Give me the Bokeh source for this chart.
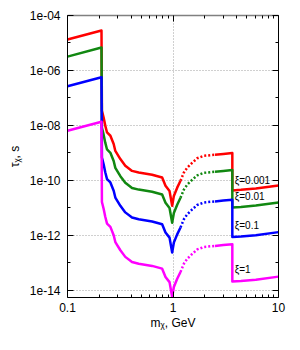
from bokeh.plotting import figure
from bokeh.models import FixedTicker, LogAxis, CustomJSTickFormatter, Range1d, ColumnDataSource
from bokeh.core.properties import value
from bokeh.embed import file_html
from bokeh.resources import INLINE

# ---------------- data ----------------
x_left = [0.1, 0.21, 0.212, 0.220, 0.228, 0.237, 0.255, 0.274, 0.284, 0.317, 0.353,
          0.409, 0.473, 0.634, 0.789, 0.849, 0.927, 0.982, 1.019, 1.096, 1.178]
red_left = [1.33e-5, 2.84e-5, 3.39e-8, 1.91e-8, 9.77e-9, 5.50e-9, 4.17e-9, 2.09e-9, 1.17e-9, 5.89e-10, 3.39e-10,
            2.19e-10, 1.91e-10, 1.58e-10, 1.26e-10, 6.31e-11, 4.07e-11, 1.17e-11, 2.69e-11, 5.37e-11, 9.55e-11]
green_left = [3.19e-6, 6.81e-6, 8.13e-9, 4.57e-9, 2.34e-9, 1.32e-9, 1.0e-9, 5.01e-10, 2.82e-10, 1.41e-10, 8.13e-11,
              5.25e-11, 4.57e-11, 3.80e-11, 3.02e-11, 1.51e-11, 9.77e-12, 2.82e-12, 6.46e-12, 1.29e-11, 2.29e-11]
blue_left = [2.65e-7, 5.66e-7, 6.76e-10, 3.80e-10, 1.95e-10, 1.10e-10, 8.32e-11, 4.17e-11, 2.34e-11, 1.17e-11, 6.76e-12,
             4.37e-12, 3.80e-12, 3.16e-12, 2.51e-12, 1.26e-12, 8.13e-13, 2.34e-13, 5.37e-13, 1.07e-12, 1.91e-12]
magenta_left = [6.37e-9, 1.36e-8, 1.62e-11, 9.12e-12, 4.68e-12, 2.63e-12, 2.0e-12, 1.0e-12, 5.62e-13, 2.82e-13, 1.62e-13,
                1.05e-13, 9.12e-14, 7.59e-14, 6.03e-14, 3.02e-14, 1.95e-14, 5.62e-15, 1.29e-14, 2.57e-14, 4.57e-14]

x_dot = [1.178, 1.268, 1.365, 1.524, 1.698, 1.963, 2.5]
red_dot = [9.55e-11, 1.91e-10, 2.88e-10, 4.37e-10, 6.31e-10, 7.76e-10, 8.51e-10]
green_dot = [2.29e-11, 4.57e-11, 6.92e-11, 1.05e-10, 1.51e-10, 1.86e-10, 2.04e-10]
blue_dot = [1.91e-12, 3.80e-12, 5.75e-12, 8.71e-12, 1.26e-11, 1.55e-11, 1.70e-11]
magenta_dot = [4.57e-14, 9.12e-14, 1.38e-13, 2.09e-13, 3.02e-13, 3.72e-13, 4.07e-13]

x_right = [2.5, 3.0, 3.65, 3.65, 4.4, 6.1, 10.0]
red_right = [8.51e-10, 9.12e-10, 9.77e-10, 4.27e-11, 4.47e-11, 5.01e-11, 6.46e-11]
green_right = [2.04e-10, 2.19e-10, 2.34e-10, 1.02e-11, 1.07e-11, 1.20e-11, 1.55e-11]
blue_right = [1.70e-11, 1.82e-11, 1.95e-11, 8.51e-13, 8.91e-13, 1.0e-12, 1.29e-12]
magenta_right = [4.07e-13, 4.37e-13, 4.68e-13, 2.04e-14, 2.14e-14, 2.40e-14, 3.09e-14]

series_names = ["ξ=0.001", "ξ=0.01", "ξ=0.1", "ξ=1"]
series_colors = ["#ff0000", "#118811", "#0000ff", "#ff00ff"]
label_x = [3.85, 3.85, 3.85, 3.85]
label_y = [9.5e-11, 2.48e-11, 2.17e-12, 5.69e-14]

x_tick_values = [0.1, 1, 10]
x_tick_labels = ["0.1", "1", "10"]
x_minor_values = [0.2, 0.3, 0.4, 0.5, 0.6, 0.7, 0.8, 0.9, 2, 3, 4, 5, 6, 7, 8, 9]
y_tick_values = [1e-14, 1e-12, 1e-10, 1e-8, 1e-6, 1e-4]
y_tick_labels = ["1e-14", "1e-12", "1e-10", "1e-08", "1e-06", "1e-04"]
y_minor_values = [1e-13, 1e-11, 1e-9, 1e-7, 1e-5]

x_title = "m\u1d6a, GeV"
y_title = "\u03c4\u1d6a, s"

# ---------------- figure ----------------
FONT = "Liberation Sans"
p = figure(width=290, height=340, x_axis_type="log", y_axis_type="log",
           x_range=Range1d(0.1, 10), y_range=Range1d(5.37e-15, 1e-4),
           output_backend="svg", toolbar_location=None,
           min_border_left=67, min_border_right=12, min_border_top=15, min_border_bottom=43)
p.outline_line_color = None
p.background_fill_color = "white"

code = """
let best = 0, d = Infinity;
for (let i = 0; i < vals.length; i++) {
  const e = Math.abs(Math.log10(vals[i]) - Math.log10(tick));
  if (e < d) { d = e; best = i; }
}
return labs[best];
"""
xt = FixedTicker(ticks=x_tick_values, minor_ticks=x_minor_values)
yt = FixedTicker(ticks=y_tick_values, minor_ticks=y_minor_values)
empty = CustomJSTickFormatter(code="return '';")

bottom = p.below[0]
left = p.left[0]
bottom.ticker = xt
bottom.formatter = CustomJSTickFormatter(args=dict(vals=x_tick_values, labs=x_tick_labels), code=code)
left.ticker = yt
left.formatter = CustomJSTickFormatter(args=dict(vals=y_tick_values, labs=y_tick_labels), code=code)

top = LogAxis(ticker=xt, formatter=empty)
right = LogAxis(ticker=yt, formatter=empty)
p.add_layout(top, "above")
p.add_layout(right, "right")

for ax in [bottom, left, top, right]:
    ax.major_tick_in = 6
    ax.major_tick_out = 0
    ax.minor_tick_in = 3
    ax.minor_tick_out = 0
    ax.axis_line_color = "black"
    ax.major_tick_line_color = "black"
    ax.minor_tick_line_color = "black"
    ax.major_label_text_font = FONT
    ax.major_label_text_font_size = "12px"
    ax.major_label_text_color = "black"
for ax in [top, right]:
    ax.major_label_standoff = 0
    ax.major_label_text_font_size = "0px"
top.axis_line_color = "#808080"
top.axis_line_width = 1.5
bottom.major_label_standoff = 5
left.major_label_standoff = 7

for ax, t, so in [(bottom, x_title, 1), (left, y_title, 5)]:
    ax.axis_label = t
    ax.axis_label_text_font = FONT
    ax.axis_label_text_font_size = "12px"
    ax.axis_label_text_font_style = "normal"
    ax.axis_label_text_color = "black"
    ax.axis_label_standoff = so

p.xgrid.ticker = FixedTicker(ticks=x_tick_values)
p.ygrid.ticker = FixedTicker(ticks=y_tick_values)
for g in [p.xgrid, p.ygrid]:
    g.grid_line_color = "#a0a0a0"
    g.grid_line_dash = "1 2"
    g.grid_line_width = 1

lefts = [red_left, green_left, blue_left, magenta_left]
dots = [red_dot, green_dot, blue_dot, magenta_dot]
rights = [red_right, green_right, blue_right, magenta_right]
for yl, yd, yr, c in zip(lefts, dots, rights, series_colors):
    p.line(x_left, yl, line_color=c, line_width=2.5, line_join="round")
    p.line(x_dot, yd, line_color=c, line_width=2.5, line_dash="2 2")
    p.line(x_right, yr, line_color=c, line_width=2.5, line_join="round")

src = ColumnDataSource(dict(x=label_x, y=label_y, t=series_names))
p.text(x="x", y="y", text="t", source=src, text_font=value(FONT), text_font_size="10px",
       text_baseline="middle", text_align="left", text_color="black")

open("out.html", "w").write(file_html(p, INLINE))
